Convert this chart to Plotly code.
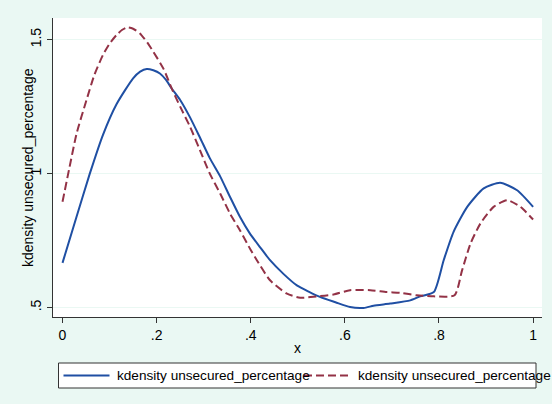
import plotly.graph_objects as go

# Kernel density estimates of unsecured_percentage (two samples)
blue_x = [0.000, 0.030, 0.058, 0.086, 0.115, 0.150, 0.165, 0.179, 0.193, 0.207, 0.220, 0.232,
          0.250, 0.271, 0.292, 0.313, 0.335, 0.356, 0.377, 0.398, 0.420, 0.441, 0.470, 0.498,
          0.523, 0.547, 0.580, 0.611, 0.640, 0.661, 0.696, 0.739, 0.760, 0.789, 0.810, 0.831,
          0.860, 0.895, 0.930, 0.966, 1.000]
blue_y = [0.667, 0.840, 1.000, 1.145, 1.260, 1.356, 1.381, 1.391, 1.386, 1.374, 1.350, 1.318,
          1.275, 1.210, 1.135, 1.058, 0.990, 0.913, 0.839, 0.777, 0.725, 0.677, 0.625, 0.583,
          0.560, 0.540, 0.520, 0.502, 0.499, 0.507, 0.515, 0.527, 0.542, 0.558, 0.677, 0.783,
          0.876, 0.945, 0.966, 0.938, 0.876]

red_x = [0.000, 0.015, 0.030, 0.051, 0.068, 0.086, 0.100, 0.115, 0.127, 0.137, 0.150, 0.164,
         0.180, 0.193, 0.215, 0.232, 0.250, 0.271, 0.292, 0.313, 0.335, 0.356, 0.377, 0.400,
         0.413, 0.441, 0.477, 0.505, 0.540, 0.576, 0.611, 0.654, 0.689, 0.718, 0.753, 0.789,
         0.833, 0.849, 0.867, 0.888, 0.916, 0.945, 0.973, 1.000]
red_y = [0.895, 1.025, 1.150, 1.275, 1.370, 1.443, 1.485, 1.518, 1.537, 1.546, 1.541, 1.524,
         1.490, 1.455, 1.390, 1.318, 1.250, 1.175, 1.088, 1.000, 0.926, 0.851, 0.789, 0.715,
         0.677, 0.602, 0.552, 0.537, 0.542, 0.549, 0.565, 0.565, 0.558, 0.555, 0.546, 0.542,
         0.546, 0.639, 0.739, 0.814, 0.876, 0.901, 0.876, 0.829]

x_ticks = [0, 0.2, 0.4, 0.6, 0.8, 1.0]
x_ticktext = ["0", ".2", ".4", ".6", ".8", "1"]
y_ticks = [0.5, 1.0, 1.5]
y_ticktext = [".5", "1", "1.5"]

series_name = "kdensity unsecured_percentage"
y_title = "kdensity unsecured_percentage"
x_title = "x"

BLUE = "#1f4fa3"
RED = "#933246"
MINT = "#eaf8f3"
AXIS = "#333333"
FONT = "Liberation Sans, Arial, sans-serif"

W, H = 552, 404
L, R, T, B = 53, 10, 18, 87
PW, PH = W - L - R, H - T - B


def px_x(p):
    return (p - L) / PW


def px_y(p):
    return (H - B - p) / PH


fig = go.Figure()
fig.add_trace(go.Scatter(x=blue_x, y=blue_y, mode="lines", name=series_name,
                         line=dict(color=BLUE, width=2, shape="spline", smoothing=0.6)))
fig.add_trace(go.Scatter(x=red_x, y=red_y, mode="lines", name=series_name,
                         line=dict(color=RED, width=2, dash="8px,4px",
                                   shape="spline", smoothing=0.6)))

fig.update_layout(
    width=W, height=H,
    margin=dict(l=L, r=R, t=T, b=B, pad=0),
    paper_bgcolor=MINT,
    plot_bgcolor="white",
    showlegend=False,
    font=dict(family=FONT, size=14, color="black"),
    xaxis=dict(range=[-0.0202, 1.0189], tickvals=x_ticks, ticktext=x_ticktext,
               showline=True, linecolor=AXIS, linewidth=1, ticks="outside",
               ticklen=5, tickcolor=AXIS, showgrid=False, zeroline=False,
               tickfont=dict(size=14)),
    yaxis=dict(range=[0.465, 1.581], tickvals=y_ticks, ticktext=y_ticktext,
               tickangle=-90, showline=True, linecolor=AXIS, linewidth=1,
               ticks="outside", ticklen=5, tickcolor=AXIS, showgrid=True,
               gridcolor=MINT, gridwidth=1, zeroline=False,
               tickfont=dict(size=14)),
)

# Axis titles
fig.add_annotation(text=y_title, textangle=-90, x=px_x(27.5), y=0.5,
                   xref="paper", yref="paper", xanchor="center", yanchor="middle",
                   showarrow=False, font=dict(size=14))
fig.add_annotation(text=x_title, x=0.5, y=px_y(348), xref="paper", yref="paper",
                   xanchor="center", yanchor="middle", showarrow=False,
                   font=dict(size=14))

# Legend box with two keys
ly = px_y(375.5)
fig.add_shape(type="rect", xref="paper", yref="paper",
              x0=px_x(58.5), x1=px_x(536), y0=px_y(388), y1=px_y(363),
              line=dict(color=AXIS, width=1), fillcolor="white", layer="above")
fig.add_shape(type="line", xref="paper", yref="paper",
              x0=px_x(63.5), x1=px_x(109.5), y0=ly, y1=ly,
              line=dict(color=BLUE, width=2))
fig.add_shape(type="line", xref="paper", yref="paper",
              x0=px_x(304), x1=px_x(350), y0=ly, y1=ly,
              line=dict(color=RED, width=2, dash="8px,4px"))
fig.add_annotation(text=series_name, x=px_x(114.5), y=ly, xref="paper", yref="paper",
                   xanchor="left", yanchor="middle", showarrow=False, font=dict(size=13.6))
fig.add_annotation(text=series_name, x=px_x(355.5), y=ly, xref="paper", yref="paper",
                   xanchor="left", yanchor="middle", showarrow=False, font=dict(size=13.6))

fig.write_html("out.html", post_script="document.body.style.margin='0';")
